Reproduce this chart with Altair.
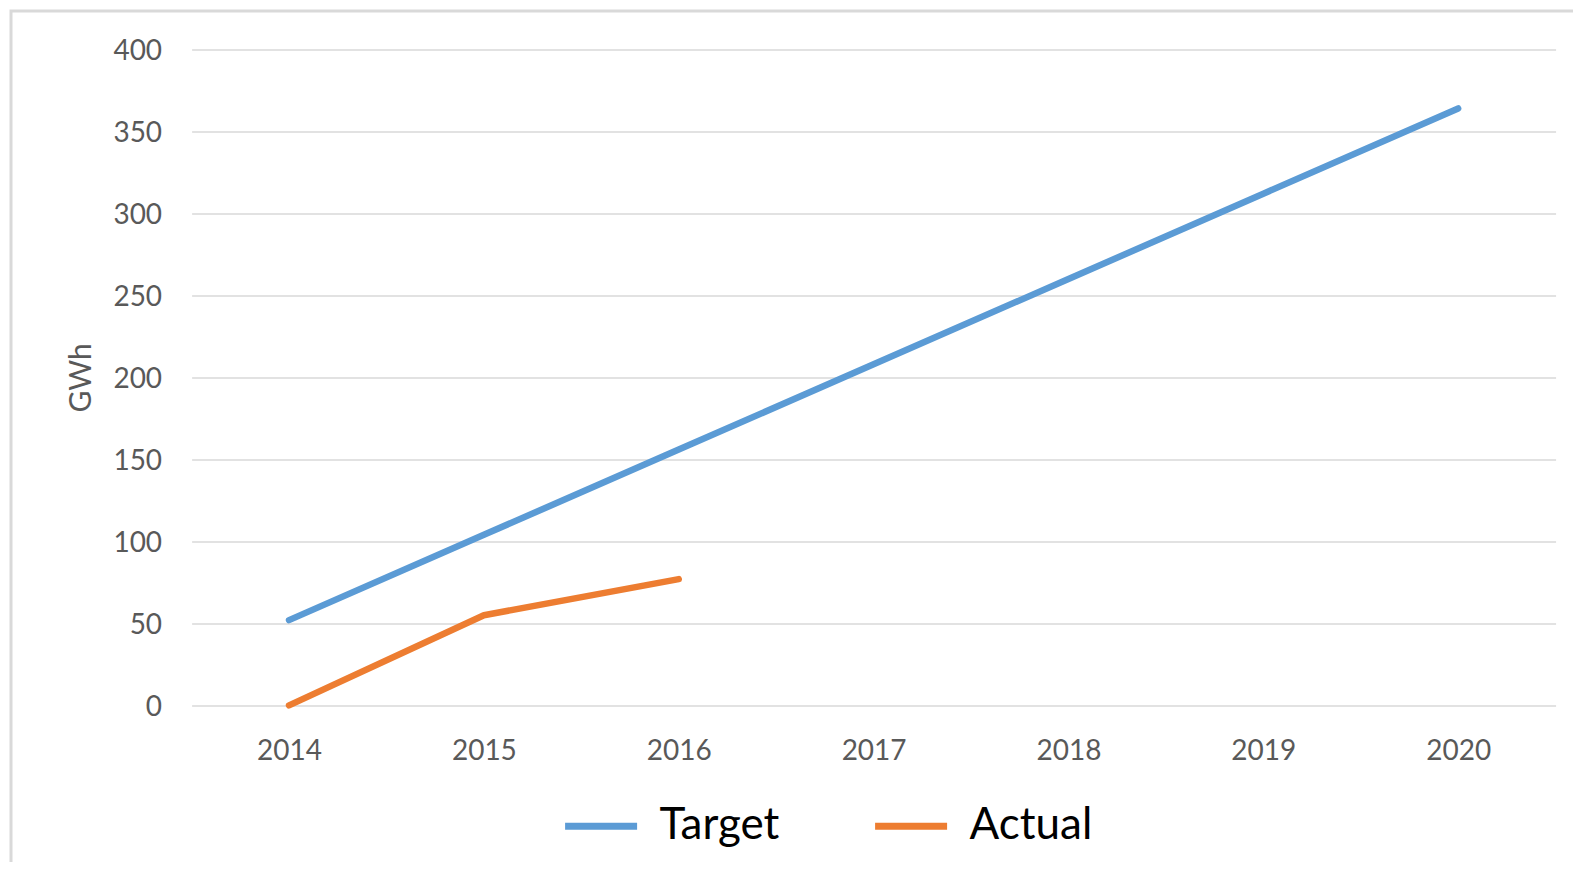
import altair as alt
import pandas as pd

years = ["2014", "2015", "2016", "2017", "2018", "2019", "2020"]
target = [52, 104, 156, 208, 260, 312, 364]
actual_years = ["2014", "2015", "2016"]
actual = [0, 55, 77]
series = ["Target", "Actual"]
colors = ["#5B9BD5", "#ED7D31"]
y_ticks = [0, 50, 100, 150, 200, 250, 300, 350, 400]

rows = [{"year": y, "value": v, "series": "Target"} for y, v in zip(years, target)]
rows += [{"year": y, "value": v, "series": "Actual"} for y, v in zip(actual_years, actual)]
df = pd.DataFrame(rows)

W, H = 1364, 656

lines = alt.Chart(df).mark_line(strokeWidth=6.5, strokeCap="round", strokeJoin="round").encode(
    x=alt.X("year:O", sort=years, scale=alt.Scale(type="point", padding=0.5, domain=years),
            axis=alt.Axis(title=None, labelAngle=0, domain=False, ticks=False, grid=False,
                          labelFontSize=28, labelColor="#595959", labelPadding=32)),
    y=alt.Y("value:Q", scale=alt.Scale(domain=[0, 400], nice=False),
            axis=alt.Axis(title="GWh", values=y_ticks, domain=False, ticks=False,
                          grid=True, gridColor="#D9D9D9", gridWidth=1.5,
                          labelFontSize=28, labelColor="#595959", labelPadding=30, labelOffset=2,
                          titleFontSize=30, titleColor="#595959", titleFontWeight="normal",
                          titleAngle=-90, titleX=-110, titleY=H / 2,
                          titleAlign="center", titleBaseline="middle")),
    color=alt.Color("series:N", sort=series,
                    scale=alt.Scale(domain=series, range=colors),
                    legend=alt.Legend(title=None, orient="none", direction="horizontal",
                                      legendX=370, legendY=737, padding=0,
                                      symbolType="stroke", symbolSize=5184,
                                      symbolStrokeWidth=7, labelFontSize=44,
                                      labelColor="#000000", labelOffset=19,
                                      columnPadding=81)),
    detail="series:N",
)

border = alt.Chart(pd.DataFrame({"a": [0]})).mark_rect(
    fill=None, stroke="#D9D9D9", strokeWidth=3, clip=False
).encode(
    x=alt.value(-180.6), x2=alt.value(1500), y=alt.value(-38.4), y2=alt.value(900)
)

chart = alt.layer(border, lines).properties(
    width=W, height=H,
    autosize=alt.AutoSizeParams(type="none"),
    padding={"left": 183.6, "top": 41.4, "right": 17, "bottom": 157},
    background="white",
).configure(font="Lato").configure_view(stroke=None)

chart.save("out.html", embed_options={"renderer": "svg", "actions": False})
